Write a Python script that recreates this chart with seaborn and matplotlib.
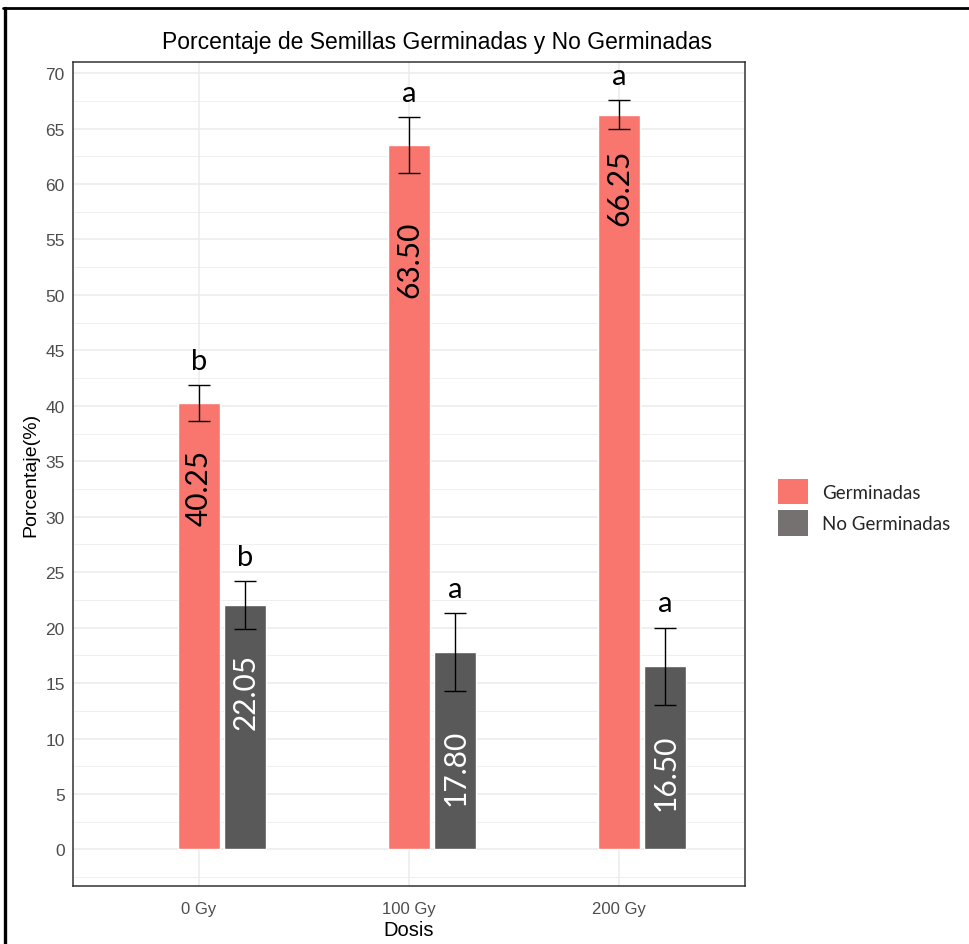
import matplotlib
matplotlib.use("Agg")
import matplotlib.pyplot as plt
from matplotlib.patches import Patch
from matplotlib.lines import Line2D
import seaborn as sns
import pandas as pd

# --- data ---------------------------------------------------------------
dosis = ["0 Gy", "100 Gy", "200 Gy"]
grupos = ["Germinadas", "No Germinadas"]
germinadas = [40.25, 63.50, 66.25]
no_germinadas = [22.05, 17.80, 16.50]
err_germinadas = [1.60, 2.50, 1.30]
err_no_germinadas = [2.15, 3.50, 3.50]
letras_germinadas = ["b", "a", "a"]
letras_no_germinadas = ["b", "a", "a"]

# --- styling ------------------------------------------------------------
bar_colors = {"Germinadas": "#F8766D", "No Germinadas": "#595959"}
key_colors = ["#F8766D", "#767171"]
label_colors = ["black", "white"]
# how far below the bar top each rotated value label starts
label_drop = [[4.15, 6.8, 3.05], [4.35, 6.9, 6.1]]

sns.set_theme(style="whitegrid")
plt.rcParams["font.family"] = ["Liberation Sans", "DejaVu Sans"]

df = pd.DataFrame({
    "Dosis": dosis * 2,
    "Grupo": [grupos[0]] * 3 + [grupos[1]] * 3,
    "Porcentaje": germinadas + no_germinadas,
})

fig = plt.figure(figsize=(9.69, 9.45), dpi=100)
fig.patch.set_facecolor("white")
ax = fig.add_axes([73 / 969, 58 / 945, 672 / 969, 824 / 945])

sns.barplot(data=df, x="Dosis", y="Porcentaje", hue="Grupo", order=dosis,
            hue_order=grupos, palette=bar_colors, width=0.44, gap=0.1,
            dodge=True, errorbar=None, saturation=1, legend=False, ax=ax,
            zorder=2)

values = [germinadas, no_germinadas]
errors = [err_germinadas, err_no_germinadas]
letters = [letras_germinadas, letras_no_germinadas]

bar_containers = list(ax.containers)
centers = []
for g, cont in enumerate(bar_containers):
    xs = [p.get_x() + p.get_width() / 2 for p in cont.patches]
    centers.append(xs)
    ax.errorbar(xs, values[g], yerr=errors[g], fmt="none", ecolor="black",
                elinewidth=1.0, capsize=8, capthick=1.0, zorder=3)
    for i, x in enumerate(xs):
        v = values[g][i]
        ax.text(x, v - label_drop[g][i], f"{v:.2f}", rotation=90,
                ha="center", va="top", fontsize=21.5, color=label_colors[g],
                family=["Lato", "DejaVu Sans"], zorder=4)
        ax.text(x, v + errors[g][i] + 2.2, letters[g][i], ha="center",
                va="center", fontsize=21, color="black",
                family=["Lato", "DejaVu Sans"], zorder=4)

# axes, grid and ticks
ax.set_xticks(centers[0])
ax.set_xticklabels(dosis)
ax.set_xlim(centers[0][0] - 0.6, centers[0][-1] + 0.6)
ax.set_ylim(-3.3, 71)
ax.set_yticks(range(0, 71, 5))
ax.set_yticks([y + 2.5 for y in range(-5, 70, 5)], minor=True)
ax.grid(True, which="major", color="#EBEBEB", linewidth=1.1, zorder=0)
ax.grid(True, which="minor", axis="y", color="#EBEBEB", linewidth=0.55,
        zorder=0)
ax.set_axisbelow(True)
for s in ax.spines.values():
    s.set_color("#333333")
    s.set_linewidth(1.1)
ax.tick_params(axis="both", which="major", length=4, width=1.0,
               color="#333333", labelcolor="#4D4D4D")
ax.tick_params(axis="y", which="minor", length=0)
ax.tick_params(axis="y", labelsize=12.5, pad=2)
ax.tick_params(axis="x", labelsize=12, pad=7)

ax.set_xlabel("Dosis", fontsize=14.5, color="black", labelpad=3)
ax.set_ylabel("Porcentaje(%)", fontsize=14, color="black", labelpad=4)

fig.text(437 / 969, 1 - 42 / 945,
         "Porcentaje de Semillas Germinadas y No Germinadas",
         ha="center", va="center", fontsize=16.5, color="black")

# legend
handles = [Patch(facecolor=c, edgecolor="none") for c in key_colors]
fig.legend(handles, grupos, loc="upper left",
           bbox_to_anchor=(770 / 969, 1 - 472 / 945), frameon=False,
           prop={"family": ["Lato", "DejaVu Sans"], "size": 13.5},
           handlelength=1.65, handleheight=1.75, handletextpad=0.75,
           labelspacing=0.3, borderaxespad=0)

# outer frame
fig.add_artist(Line2D([4.5 / 969, 4.5 / 969], [0, 1 - 9 / 945],
                      color="black", linewidth=2.4,
                      transform=fig.transFigure))
fig.add_artist(Line2D([3.3 / 969, 1], [1 - 9 / 945, 1 - 9 / 945],
                      color="black", linewidth=2.0,
                      transform=fig.transFigure))

fig.savefig("out.png", dpi=100, facecolor="white")
